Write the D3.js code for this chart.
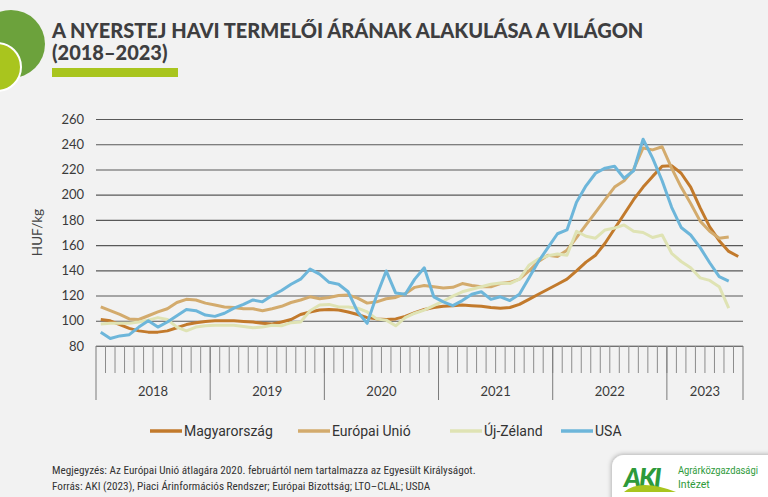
<!DOCTYPE html>
<html>
<head>
<meta charset="utf-8">
<script src="https://cdn.jsdelivr.net/npm/d3@7"></script>
<style>
  body { margin: 0; background: #f2f2f2; }
  svg { display: block; }
</style>
</head>
<body>
<svg id="chart"></svg>
<script>
// years on the x axis and how many months each one covers
var years = ["2018", "2019", "2020", "2021", "2022", "2023"];
var monthsInYear = [12, 12, 12, 12, 12, 8];
var yTicks = [80, 100, 120, 140, 160, 180, 200, 220, 240, 260];

// HUF/kg, monthly, from January 2018
var magyarorszag = [
  101, 100, 97, 94, 92, 91, 91, 92, 94.5, 97, 98.5, 99.5,
  100, 100, 100, 99.5, 99, 98, 97.5, 99, 101, 105, 107, 108.5,
  109, 108.5, 107, 105, 102.5, 101.5, 101, 101.5, 103.5, 106.5, 109, 110.5,
  111.5, 112, 112.5, 112, 111.5, 110.5, 110, 110.5, 113, 117, 121, 125,
  129, 133, 139.5, 146.5, 152, 161.5, 173, 184.5, 196, 206, 214.5, 222.5,
  223, 217, 206, 189.5, 174.5, 163.5, 155, 151
];
var europaiUnio = [
  111, 108, 105, 101.5, 101, 104, 107, 109.5, 114.5, 117, 116.5, 114,
  112.5, 111, 110.5, 109.5, 109.5, 108, 109.5, 111.5, 114.5, 116.5, 119, 117.5,
  118.5, 120, 120.5, 118, 114, 115, 117.5, 118.5, 121.5, 126.5, 128, 127,
  126, 126.5, 129.5, 128, 127, 127, 129.5, 130.5, 133, 139.5, 147, 152,
  151, 156, 166, 176, 186, 196, 206, 211, 220, 237, 235.5, 238,
  221, 206, 193, 179, 171, 165.5, 166.5
];
var ujZeland = [
  97.5, 98, 98, 98, 99, 100.5, 102.5, 101, 95, 92, 95, 96,
  96.5, 96.5, 96.5, 95.5, 94.5, 95, 96.5, 96, 98.5, 99, 108, 112.5,
  113, 111, 111, 110, 107, 101.5, 100.5, 96, 102.5, 106, 108.5, 112,
  115.5, 119.5, 123, 125, 127, 129, 130, 129.5, 133, 144, 149, 151.5,
  153, 152, 171, 167, 165.5, 172, 173.5, 176, 171, 170, 166, 168,
  153.5, 147, 142, 134, 132, 127, 110
];
var usa = [
  91, 86, 88, 89, 95, 100, 95, 99, 104, 109, 108, 104.5,
  103.5, 106, 110, 113, 116.5, 115, 120, 124, 129, 133, 141, 137,
  130.5, 129, 123, 107, 98, 120, 139.5, 122, 121, 133, 142, 119,
  115, 112, 116, 121, 123, 117, 119, 116, 121, 134, 147, 158,
  169, 172, 194, 207, 217, 221, 222.5, 213, 219, 244, 229, 211,
  190, 174, 168, 158, 146, 135, 131.5
];

var series = [
  { name: "Magyarország", values: magyarorszag, color: "#c27a2c" },
  { name: "Európai Unió", values: europaiUnio, color: "#d3ab6d" },
  { name: "Új-Zéland", values: ujZeland, color: "#dfe3b4" },
  { name: "USA", values: usa, color: "#6db6da" }
];

// month keys, e.g. "2018-1"
var months = [];
years.forEach(function (y, i) {
  for (var m = 1; m <= monthsInYear[i]; m++) months.push(y + "-" + m);
});

var W = 768, H = 497;
var svg = d3.select("#chart").attr("width", W).attr("height", H);

svg.append("rect").attr("width", W).attr("height", H).attr("fill", "#f2f2f2");

// top-left decoration
svg.append("circle").attr("cx", 11).attr("cy", 44).attr("r", 34).attr("fill", "#6ca23c");
svg.append("circle").attr("cx", -3).attr("cy", 67).attr("r", 24)
  .attr("fill", "#a9c51e").attr("stroke", "#ffffff").attr("stroke-width", 2);

// title
var title = svg.append("text")
  .style("font-family", "Lato, sans-serif")
  .style("font-weight", 900)
  .style("font-size", "20px")
  .style("fill", "#3e3e40");
title.append("tspan").attr("x", 52).attr("y", 38).text("A NYERSTEJ HAVI TERMELŐI ÁRÁNAK ALAKULÁSA A VILÁGON");
title.append("tspan").attr("x", 52).attr("y", 60).text("(2018–2023)");
svg.append("rect").attr("x", 52).attr("y", 68).attr("width", 126).attr("height", 9).attr("fill", "#a9c51e");

var margin = { left: 96, right: 25, top: 119, bottom: 151 };
var x0 = margin.left, x1 = W - margin.right;
var yTop = margin.top, yBot = H - margin.bottom;

var x = d3.scaleBand().domain(months).range([x0, x1]);
var y = d3.scaleLinear().domain([80, 260]).range([yBot, yTop]);

// horizontal grid and y labels
var yAxis = d3.axisLeft(y).tickValues(yTicks).tickSize(-(x1 - x0)).tickPadding(12);
var gy = svg.append("g").attr("transform", "translate(" + x0 + ",0)").call(yAxis);
gy.select(".domain").remove();
gy.selectAll(".tick line").attr("stroke", "#595959").attr("stroke-width", 1.1);
gy.selectAll(".tick text")
  .style("font-family", "Lato, sans-serif").style("font-size", "13px").style("fill", "#3a3a3a");

svg.append("text")
  .attr("transform", "translate(42," + (yTop + yBot) / 2 + ") rotate(-90)")
  .attr("text-anchor", "middle")
  .style("font-family", "Lato, sans-serif").style("font-size", "13.5px").style("fill", "#444")
  .text("HUF/kg");

// month ticks
var monthBounds = months.slice(1).map(function (m) { return x(m); });
svg.append("g").selectAll("line").data(monthBounds).join("line")
  .attr("x1", function (d) { return d; }).attr("x2", function (d) { return d; })
  .attr("y1", yBot).attr("y2", yBot + 27)
  .attr("stroke", "#8c8c8c").attr("stroke-width", 1);

// year boundaries and labels
var yearStarts = [];
var k = 0;
years.forEach(function (yr, i) {
  yearStarts.push({ year: yr, a: x(months[k]), b: x(months[k + monthsInYear[i] - 1]) + x.bandwidth() });
  k += monthsInYear[i];
});
var bounds = yearStarts.map(function (d) { return d.a; }).concat([x1]);
svg.append("g").selectAll("line").data(bounds).join("line")
  .attr("x1", function (d) { return d; }).attr("x2", function (d) { return d; })
  .attr("y1", yBot).attr("y2", yBot + 54)
  .attr("stroke", "#7a7a7a").attr("stroke-width", 1);
svg.append("line").attr("x1", x0).attr("x2", x1).attr("y1", yBot).attr("y2", yBot)
  .attr("stroke", "#8c8c8c").attr("stroke-width", 1.2);
svg.append("g").selectAll("text").data(yearStarts).join("text")
  .attr("x", function (d) { return (d.a + d.b) / 2; })
  .attr("y", yBot + 50)
  .attr("text-anchor", "middle")
  .style("font-family", "Lato, sans-serif").style("font-size", "13px").style("fill", "#3a3a3a")
  .text(function (d) { return d.year; });

// lines
var line = d3.line()
  .x(function (d, i) { return x(months[i]) + x.bandwidth() / 2; })
  .y(function (d) { return y(d); });
svg.append("g").selectAll("path").data(series).join("path")
  .attr("d", function (d) { return line(d.values); })
  .attr("fill", "none")
  .attr("stroke", function (d) { return d.color; })
  .attr("stroke-width", 3)
  .attr("stroke-linejoin", "round");

// legend
var legendX = [150, 298, 450, 561];
var lg = svg.append("g").selectAll("g").data(series).join("g")
  .attr("transform", function (d, i) { return "translate(" + legendX[i] + ",431)"; });
lg.append("line").attr("x1", 0).attr("x2", 32).attr("y1", 0).attr("y2", 0)
  .attr("stroke", function (d) { return d.color; }).attr("stroke-width", 3.5);
lg.append("text").attr("x", 34).attr("y", 5)
  .style("font-family", "Roboto, sans-serif").style("font-size", "14px").style("fill", "#333")
  .text(function (d) { return d.name; });

// footnote
var foot = svg.append("text")
  .style("font-family", "'Liberation Sans Narrow', 'Roboto Condensed', sans-serif")
  .style("font-size", "11.2px").style("fill", "#333");
foot.append("tspan").attr("x", 52).attr("y", 474)
  .text("Megjegyzés: Az Európai Unió átlagára 2020. februártól nem tartalmazza az Egyesült Királyságot.");
foot.append("tspan").attr("x", 52).attr("y", 490)
  .text("Forrás: AKI (2023), Piaci Árinformációs Rendszer; Európai Bizottság; LTO–CLAL; USDA");

// AKI logo box
var defs = svg.append("defs");
var f = defs.append("filter").attr("id", "sh").attr("x", "-20%").attr("y", "-20%").attr("width", "140%").attr("height", "140%");
f.append("feDropShadow").attr("dx", -1).attr("dy", -1).attr("stdDeviation", 2).attr("flood-color", "#000").attr("flood-opacity", 0.25);
svg.append("rect").attr("x", 612).attr("y", 455).attr("width", 170).attr("height", 60).attr("rx", 12)
  .attr("fill", "#ffffff").attr("filter", "url(#sh)");
svg.append("text").attr("x", 624).attr("y", 487)
  .style("font-family", "Lato, sans-serif").style("font-weight", 900).style("font-size", "26px")
  .style("font-style", "italic").style("fill", "#2e9a3a").style("letter-spacing", "-2px")
  .text("AKI");
svg.append("path").attr("d", "M624,492 Q640,478 676,492 Z").attr("fill", "#a9c51e");
var logoT = svg.append("g")
  .style("font-family", "Roboto, sans-serif")
  .style("font-size", "10.5px").style("fill", "#2e9a3a");
logoT.append("text").attr("x", 678).attr("y", 474)
  .attr("textLength", 80).attr("lengthAdjust", "spacingAndGlyphs")
  .text("Agrárközgazdasági");
logoT.append("text").attr("x", 678).attr("y", 488).text("Intézet");
</script>
</body>
</html>
